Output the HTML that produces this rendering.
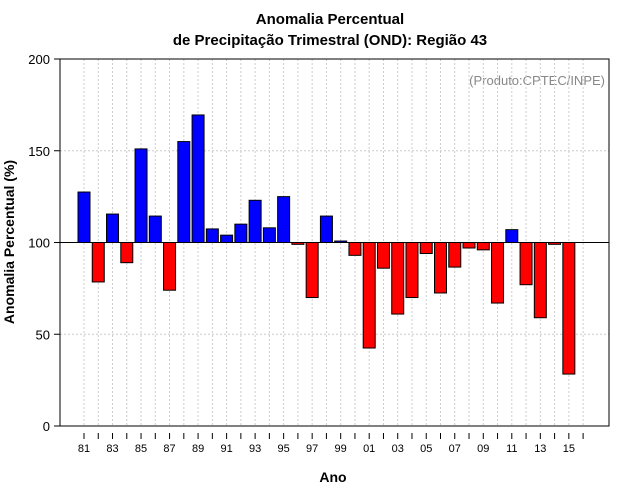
<!DOCTYPE html>
<html><head><meta charset="utf-8"><style>body{margin:0;background:#fff}svg{display:block;font-family:"Liberation Sans",sans-serif}</style></head>
<body>
<svg id="c" width="640" height="500">
<text x="330" y="24" text-anchor="middle" font-size="15" font-weight="bold">Anomalia Percentual</text>
<text x="330" y="45" text-anchor="middle" font-size="15" font-weight="bold">de Precipitação Trimestral (OND): Região 43</text>
<text x="605" y="85" text-anchor="end" font-size="13" fill="#888">(Produto:CPTEC/INPE)</text>
<text x="333" y="482" text-anchor="middle" font-size="14" font-weight="bold">Ano</text>
<text transform="translate(14,242) rotate(-90)" text-anchor="middle" font-size="14" font-weight="bold">Anomalia Percentual (%)</text>
<g id="grid"></g><g id="bars"></g><g id="axes"></g>
</svg>
<script>
const years=[81,82,83,84,85,86,87,88,89,90,91,92,93,94,95,96,97,98,99,0,1,2,3,4,5,6,7,8,9,10,11,12,13,14,15];
const values=[127.5,78.5,115.5,89,151,114.4,74,155,169.5,107.4,104,110,123,108,125,99,70,114.4,100.8,93,42.5,86,61,70,94,72.5,86.6,97,96,67,107,77,59,99,28.3];
const yTicks=[0,50,100,150,200];
const NS="http://www.w3.org/2000/svg";
const L=60,R=609,T=59,B=426;
const y=v=>B-(v/200)*(B-T);
const x=i=>84+14.26*i;
function mk(t,a,p){const e=document.createElementNS(NS,t);for(const k in a)e.setAttribute(k,a[k]);document.getElementById(p).appendChild(e);return e;}
for(let i=0;i<36;i++){
 const g=mk('line',{x1:x(i),x2:x(i),y1:T,y2:B,stroke:'#ccc','stroke-dasharray':'2,2'},'grid');
 
 
 const t=mk('line',{x1:x(i),x2:x(i),y1:B+7,y2:B+13,stroke:'#000'},'axes');
 
 
}
yTicks.forEach(v=>{
 if(v>0&&v<200){const g=mk('line',{x1:L,x2:R,y1:y(v),y2:y(v),stroke:'#ccc','stroke-dasharray':'2,2'},'grid');
 
 }
 const t=mk('line',{x1:L-6,x2:L,y1:y(v),y2:y(v),stroke:'#000'},'axes');
 
 
 const l=mk('text',{x:L-10,y:y(v)+5,'text-anchor':'end','font-size':'13'},'axes');l.textContent=v;
 
 
});
values.forEach((v,i)=>{
 const top=Math.min(y(v),y(100)),h=Math.abs(y(v)-y(100));
 const b=mk('rect',{x:x(i)-6,y:top,width:12,height:Math.max(h,1),fill:v>=100?'#0000ff':'#ff0000',stroke:'#000','stroke-width':1},'bars');
 
 
 if(i%2==0){const l=mk('text',{x:x(i),y:452,'text-anchor':'middle','font-size':'11'},'axes');l.textContent=String(years[i]).padStart(2,'0');
 
 }
});
const ref=mk('line',{x1:L,x2:R,y1:y(100),y2:y(100),stroke:'#000'},'axes');


const f=mk('rect',{x:L,y:T,width:R-L,height:B-T,fill:'none',stroke:'#000'},'axes');


</script>
</body></html>
